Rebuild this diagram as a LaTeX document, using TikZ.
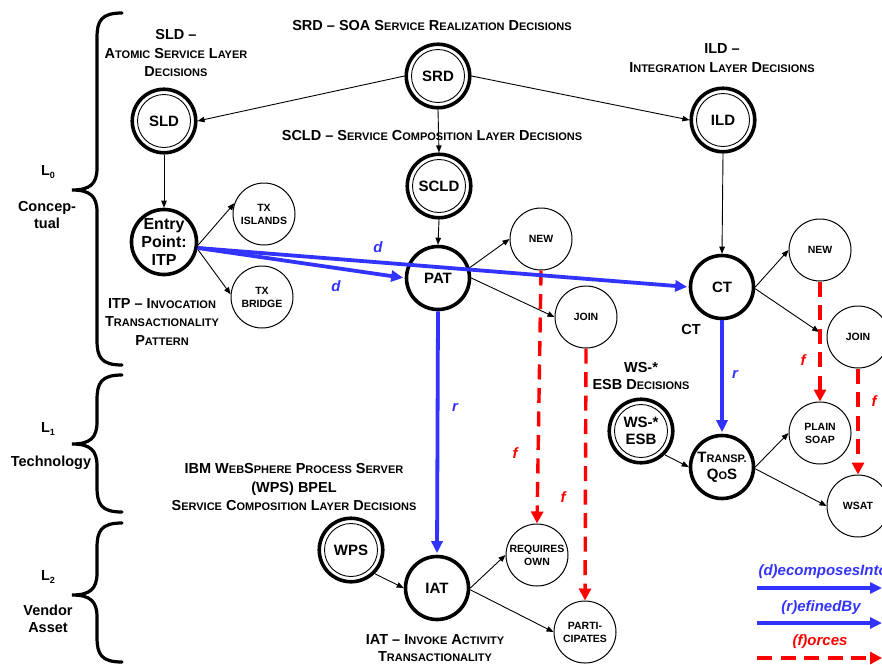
\documentclass[tikz,border=0pt]{standalone}
\usepackage{fontspec}
\setmainfont{Liberation Sans}
\usetikzlibrary{arrows.meta}

\definecolor{dblue}{RGB}{51,51,255}
\definecolor{fred}{RGB}{255,0,0}

% small capitals, faked with a smaller size for the lower-case part
\newcommand\hsc[1]{{\fontsize{11}{12}\selectfont #1}}
\newcommand\nsc[1]{{\fontsize{11}{12}\selectfont #1}}
\newcommand\subnum[1]{\raisebox{-0.35ex}{\fontsize{9}{10}\selectfont #1}}

% curly brace of a layer: top y, tip y, bottom y
\newcommand\layerbrace[3]{%
  \draw[bracestyle] (122,#1) .. controls (101,#1) and (97,#1+8) .. (97,#1+25)
    -- (97,#2-22) .. controls (97,#2-6) and (90,#2) .. (72,#2)
    .. controls (90,#2) and (97,#2+6) .. (97,#2+22)
    -- (97,#3-25) .. controls (97,#3-8) and (101,#3) .. (122,#3);}

\begin{document}
\begin{tikzpicture}[x=1pt,y=-1pt,
  every node/.style={font=\bfseries},
  decnode/.style={circle, draw, line width=3.6pt, minimum size=63.5pt, inner sep=0pt,
    align=center, font=\bfseries\fontsize{15}{17}\selectfont,
    path picture={\draw[line width=0.9pt] (path picture bounding box.center) circle (26.5pt);}},
  boldnode/.style={circle, draw, line width=3.6pt, minimum size=63pt, inner sep=0pt,
    align=center, font=\bfseries\fontsize{15}{17}\selectfont},
  optnode/.style={circle, draw, line width=1pt, minimum size=62pt, inner sep=0pt,
    align=center, font=\bfseries\fontsize{10.5}{13}\selectfont},
  hdr/.style={align=center, font=\bfseries\fontsize{14.5}{18.5}\selectfont},
  side/.style={align=center, font=\bfseries\fontsize{14.5}{17}\selectfont},
  conn/.style={line width=0.9pt, -{Triangle[length=7pt,width=5.5pt]}},
  decomp/.style={draw=dblue, line width=3.8pt, -{Triangle[length=12pt,width=11pt]}},
  forces/.style={draw=fred, line width=3.4pt, dash pattern=on 15pt off 8.5pt,
    -{Triangle[length=12pt,width=12pt]}},
  bluelab/.style={text=dblue, font=\bfseries\itshape\fontsize{15}{17}\selectfont},
  redlab/.style={text=fred, font=\bfseries\itshape\fontsize{15}{17}\selectfont},
  bracestyle/.style={line width=3.2pt, line cap=round}
]
\useasboundingbox (0,0) rectangle (882,664);

% ---- layer braces and layer names
\layerbrace{13}{190}{365}
\layerbrace{375}{444}{512}
\layerbrace{523}{595}{662}

\node[side] (l0) at (48,172) {L\subnum{0}};
\node[side] (l0t) at (47,215) {Concep-\\tual};
\node[side] (l1) at (48,429) {L\subnum{1}};
\node[side] (l1t) at (51,463) {Technology};
\node[side] (l2) at (48,577) {L\subnum{2}};
\node[side] (l2t) at (48,619) {Vendor\\Asset};

% ---- headings
\node[hdr] (hsrd) at (432,26) {SRD -- SOA S\hsc{ERVICE} R\hsc{EALIZATION} D\hsc{ECISIONS}};
\node[hdr] (hsld) at (176,53) {SLD --\\A\hsc{TOMIC} S\hsc{ERVICE} L\hsc{AYER}\\D\hsc{ECISIONS}};
\node[hdr] (hscld) at (432,136) {SCLD -- S\hsc{ERVICE} C\hsc{OMPOSITION} L\hsc{AYER} D\hsc{ECISIONS}};
\node[hdr] (hild) at (722,58) {ILD --\\I\hsc{NTEGRATION} L\hsc{AYER} D\hsc{ECISIONS}};
\node[hdr] (hitp) at (162,322) {ITP -- I\hsc{NVOCATION}\\T\hsc{RANSACTIONALITY}\\P\hsc{ATTERN}};
\node[hdr] (hct) at (691,330) {CT};
\node[hdr, font=\bfseries\fontsize{14.5}{17}\selectfont] (hws) at (641,376) {WS-*\\ESB D\hsc{ECISIONS}};
\node[hdr] (hwps) at (294,487) {IBM W\hsc{EB}S\hsc{PHERE} P\hsc{ROCESS} S\hsc{ERVER}\\(WPS) BPEL\\S\hsc{ERVICE} C\hsc{OMPOSITION} L\hsc{AYER} D\hsc{ECISIONS}};
\node[hdr, font=\bfseries\fontsize{14.5}{17}\selectfont] (hiat) at (435,648) {IAT -- I\hsc{NVOKE} A\hsc{CTIVITY}\\T\hsc{RANSACTIONALITY}};

% ---- decision nodes
\node[decnode] (srd) at (438,76) {SRD};
\node[decnode] (sld) at (164,121) {SLD};
\node[decnode] (ild) at (723,120) {ILD};
\node[decnode] (scld) at (439,186) {SCLD};
\node[decnode] (wsesb) at (641,431) {WS-*\\ESB};
\node[decnode] (wps) at (351,550) {WPS};

\node[boldnode, font=\bfseries\fontsize{16}{18}\selectfont] (itp) at (164,242) {Entry\\Point:\\ITP};
\node[boldnode] (pat) at (438,278) {PAT};
\node[boldnode] (ct) at (722,287) {CT};
\node[boldnode] (qos) at (722,467) {T\nsc{RANSP.}\\Q\nsc{O}S};
\node[boldnode] (iat) at (437,588) {IAT};

% ---- option nodes
\node[optnode] (txi) at (264,214) {TX\\ISLANDS};
\node[optnode] (txb) at (262,297) {TX\\BRIDGE};
\node[optnode] (newp) at (541,239) {NEW};
\node[optnode] (joinp) at (586,317) {JOIN};
\node[optnode] (newc) at (820,250) {NEW};
\node[optnode] (joinc) at (858,337) {JOIN};
\node[optnode] (reqown) at (537,555) {REQUIRES\\OWN};
\node[optnode] (parti) at (585,632) {PARTI-\\CIPATES};
\node[optnode] (plain) at (820,433) {PLAIN\\SOAP};
\node[optnode] (wsat) at (858,506) {WSAT};

% ---- plain connectors
\draw[conn] (srd.west) -- (sld.east);
\draw[conn] (srd.east) -- (ild.west);
\draw[conn] (srd.south) -- (scld.north);
\draw[conn] (scld.south) -- (pat.north);
\draw[conn] (sld.south) -- (itp.north);
\draw[conn] (ild.south) -- (ct.north);
\draw[conn] (itp.-5) -- (txi.160);
\draw[conn] (itp.-12) -- (txb.175);
\draw[conn] (pat.18) -- (newp.west);
\draw[conn] (pat.east) -- (joinp.west);
\draw[conn] (ct.east) -- (newc.west);
\draw[conn, shorten >=9pt] (ct.-3) -- (joinc.west);
\draw[conn] (wsesb.south east) -- (qos.west);
\draw[conn] (qos.east) -- (plain.west);
\draw[conn] (qos.-3) -- (wsat.west);
\draw[conn] (wps.south east) -- (iat.west);
\draw[conn] (iat.east) -- (reqown.west);
\draw[conn] (iat.-3) -- (parti.west);

% ---- forces
\draw[forces] (newp.south) -- (reqown.north);
\draw[forces] (joinp.south) -- (parti.north);
\draw[forces] (newc.south) -- (plain.north);
\draw[forces] (joinc.south) -- (wsat.north);

% ---- decomposition and refinement
\draw[decomp, shorten >=1.5pt] (itp.-10) -- (pat.west);
\draw[decomp, shorten >=1.5pt] (itp.-10) -- (ct.west);
\draw[decomp, shorten >=1.5pt] (pat.south) -- (iat.north);
\draw[decomp, shorten >=1.5pt] (ct.south) -- (qos.north);

% ---- relation labels
\node[bluelab] (d1) at (378,247) {d};
\node[bluelab] (d2) at (336,286) {d};
\node[bluelab] (r1) at (455,407) {r};
\node[bluelab] (r2) at (735,374) {r};
\node[redlab] (f1) at (515,453) {f};
\node[redlab] (f2) at (563,497) {f};
\node[redlab] (f3) at (803,360) {f};
\node[redlab] (f4) at (874,401) {f};

% ---- legend
\node[bluelab, anchor=west] (lgd) at (755,572) {(d)ecomposesInto};
\node[bluelab] (lgr) at (821,608) {(r)efinedBy};
\node[redlab] (lgf) at (820,642) {(f)orces};
\coordinate (lgda) at (757,588);
\coordinate (lgdb) at (882,588);
\coordinate (lgra) at (757,623);
\coordinate (lgrb) at (882,623);
\coordinate (lgfa) at (757,658);
\coordinate (lgfb) at (882,658);
\draw[decomp] (lgda) -- (lgdb);
\draw[decomp] (lgra) -- (lgrb);
\draw[forces] (lgfa) -- (lgfb);
\end{tikzpicture}
\end{document}
